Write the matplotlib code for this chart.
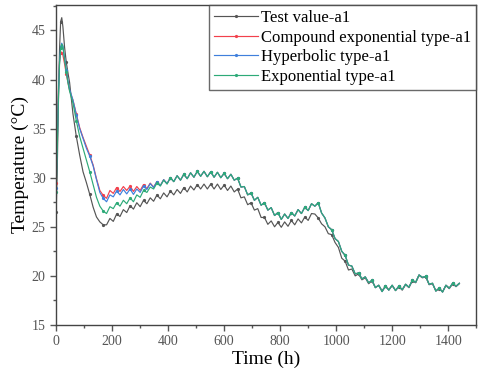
import matplotlib
matplotlib.use('Agg')
from matplotlib import pyplot as plt
from matplotlib.ticker import MultipleLocator

# sample times (h)
hours = [0, 4, 8, 12, 16, 20, 24, 30, 36, 42] + list(range(48, 1441, 12))

# test value
test_a1 = [26.5, 31.0, 37.5, 43.0, 45.9, 46.3, 45.4, 43.3, 41.8, 40.7, 39.7, 36.5, 34.2, 32.3, 30.6, 29.5, 28.3, 27.0, 26.0, 25.5, 25.2,
           25.2, 25.85, 25.55, 26.3, 26.05, 26.75, 26.45, 27.15, 26.8, 27.45, 27.05, 27.7, 27.35, 27.95, 27.6, 28.25, 27.85, 28.45, 28.05, 28.65,
           28.25, 28.8, 28.4, 29.0, 28.55, 29.15, 28.75, 29.3, 28.85, 29.35, 28.85, 29.35, 28.85, 29.35, 28.8, 29.25, 28.7, 29.15, 28.55, 28.85,
           27.95, 28.05, 27.25, 27.45, 26.7, 26.85, 25.95, 25.95, 25.25, 25.6, 25.0, 25.45, 24.95, 25.5, 25.05, 25.65, 25.2, 25.8, 25.4, 26.0,
           25.65, 26.35, 26.3, 25.9, 25.3, 25.0, 24.3, 24.2, 23.4, 22.9, 21.8, 21.5, 20.6, 20.7, 20.0, 20.2, 19.6, 19.8, 19.2, 19.5,
           18.85, 19.0, 18.5, 18.95, 18.6, 19.0, 18.55, 18.9, 18.55, 19.1, 18.8, 19.5, 19.3, 20.05, 19.8, 19.9, 19.1, 19.2, 18.5, 18.7,
           18.4, 19.0, 18.7, 19.2, 18.9, 19.2]

# model curves, 0-408 h
compound_head = [29.5, 34.0, 39.0, 41.8, 42.7, 42.8, 42.5, 41.6, 40.6, 39.7, 38.9, 37.9, 36.5, 35.1, 34.1, 33.2, 32.3, 31.3, 29.9, 28.7, 28.2,
                 27.9, 28.7, 28.4, 29.0, 28.6, 29.1, 28.7, 29.15, 28.6, 29.1, 28.7, 29.3, 28.9, 29.45, 29.05, 29.6, 29.2, 29.8, 29.4, 30.0]
hyperbolic_head = [29.0, 33.5, 38.5, 41.8, 43.3, 43.7, 43.4, 42.2, 41.0, 39.9, 39.0, 37.9, 36.4, 35.0, 34.0, 33.0, 32.2, 31.2, 29.8, 28.5, 27.9,
                   27.55, 28.25, 28.05, 28.65, 28.25, 28.8, 28.35, 28.85, 28.3, 28.85, 28.5, 29.15, 28.8, 29.4, 29.0, 29.6, 29.2, 29.8, 29.4, 30.0]
exponential_head = [28.5, 33.0, 38.0, 41.5, 43.2, 43.6, 43.4, 42.0, 40.8, 39.7, 38.8, 37.6, 35.8, 34.2, 33.0, 31.8, 30.6, 29.3, 28.0, 27.1, 26.6,
                    26.35, 27.05, 26.85, 27.45, 27.1, 27.7, 27.35, 27.95, 27.55, 28.25, 28.0, 28.7, 28.5, 29.05, 28.85, 29.45, 29.15, 29.75, 29.35, 30.0]
# the three models overlap from 420 h on
model_tail = [29.6, 30.2, 29.75, 30.35, 29.9, 30.5, 30.05, 30.65, 30.15, 30.65, 30.1, 30.6, 30.05, 30.55, 30.0, 30.45, 29.9, 30.35, 29.75, 29.95,
              29.05, 29.1, 28.25, 28.45, 27.7, 28.0, 27.2, 27.45, 26.7, 26.95, 26.15, 26.45, 25.75, 26.3, 25.85, 26.45, 26.1, 26.75, 26.35, 27.0,
              26.65, 27.35, 27.1, 27.45, 26.4, 25.9, 25.0, 24.7, 23.8, 23.5, 22.5, 22.1, 21.1, 21.0, 20.2, 20.3, 19.7, 19.9, 19.3, 19.55,
              18.8, 19.05, 18.4, 18.95, 18.55, 19.05, 18.5, 18.95, 18.6, 19.15, 18.85, 19.55, 19.35, 20.1, 19.85, 19.95, 19.15, 19.25, 18.45, 18.75,
              18.35, 19.05, 18.75, 19.25, 18.95, 19.25]

series = [
    ('Test value-a1', test_a1, '#555555'),
    ('Compound exponential type-a1', compound_head + model_tail, '#f2404c'),
    ('Hyperbolic type-a1', hyperbolic_head + model_tail, '#3f7fdc'),
    ('Exponential type-a1', exponential_head + model_tail, '#2daa78'),
]

plt.rcParams['font.family'] = ['Liberation Serif', 'DejaVu Serif']

fig = plt.figure(figsize=(4.8, 3.77), dpi=100)
ax = fig.add_axes([0.117, 0.138, 0.875, 0.849])

for name, vals, col in series:
    ax.plot(hours, vals, color=col, lw=0.85, marker='o', markersize=1.3, markevery=4, label=name)

ax.set_xlim(0, 1500)
ax.set_ylim(15, 47.6)
ax.xaxis.set_major_locator(MultipleLocator(200))
ax.xaxis.set_minor_locator(MultipleLocator(100))
ax.yaxis.set_major_locator(MultipleLocator(5))
ax.yaxis.set_minor_locator(MultipleLocator(2.5))
ax.tick_params(which='major', direction='out', length=4, width=1, colors='#555555', labelsize=10)
ax.tick_params(which='minor', direction='out', length=2.5, width=1, colors='#555555')
for s in ax.spines.values():
    s.set_color('#444444')
    s.set_linewidth(1.0)

ax.set_xlabel('Time (h)', fontsize=14, labelpad=2)
ax.set_ylabel('Temperature (\u00b0C)', fontsize=14, labelpad=2)

leg = ax.legend(loc='upper right', fontsize=12, frameon=True, fancybox=False, borderaxespad=0,
                handlelength=2.6, handletextpad=0.2, labelspacing=0.22, borderpad=0.3, numpoints=1)
leg.get_frame().set_edgecolor('#444444')
leg.get_frame().set_linewidth(1.0)

plt.savefig('out.png', dpi=100)
